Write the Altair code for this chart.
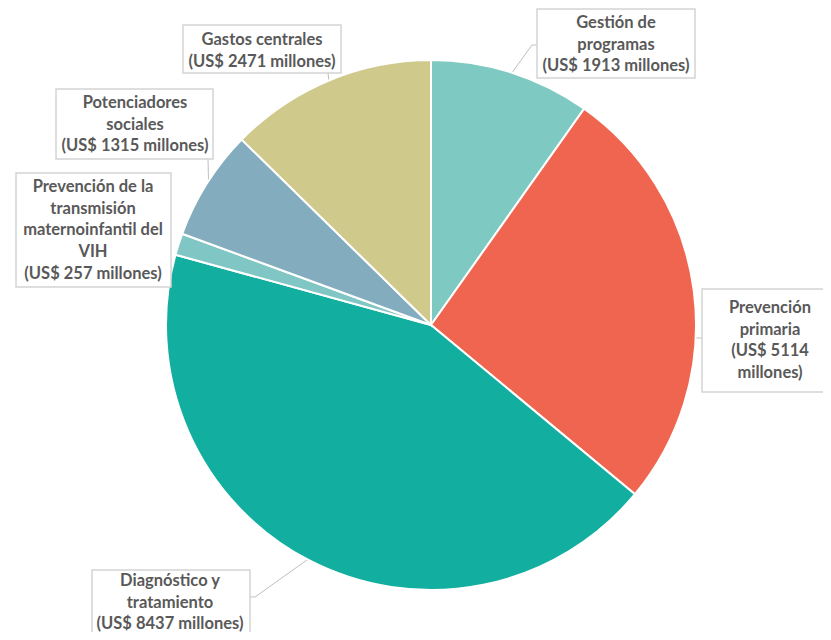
import altair as alt
import pandas as pd
import numpy as np

# ---------------- data ----------------
categories = [
    "Gestión de programas",
    "Prevención primaria",
    "Diagnóstico y tratamiento",
    "Prevención de la transmisión maternoinfantil del VIH",
    "Potenciadores sociales",
    "Gastos centrales",
]
values = [1913, 5114, 8437, 257, 1315, 2471]
name_lines = [
    ["Gestión de", "programas"],
    ["Prevención", "primaria"],
    ["Diagnóstico y", "tratamiento"],
    ["Prevención de la", "transmisión", "maternoinfantil del", "VIH"],
    ["Potenciadores", "sociales"],
    ["Gastos centrales"],
]
colors = ["#7ECAC3", "#F0654F", "#12AE9F", "#80C6C4", "#83ADBE", "#D0C98C"]

# ---------------- layout (chart pixel coords) ----------------
W, H = 815, 624
CX, CY, R = 423, 317, 265
LINE_H = 21.7
# box: x0, x1, y0, y1 ; text centre x ; first line y ; value line wrapped?
boxes = [
    dict(x0=529, x1=687, y0=1, y1=70, tx=608, ty=15, wrap=False),
    dict(x0=694, x1=840, y0=281, y1=384, tx=762, ty=300, wrap=True),
    dict(x0=84, x1=242, y0=562, y1=650, tx=162, ty=573, wrap=False),
    dict(x0=8, x1=163, y0=165, y1=279, tx=85, ty=179, wrap=False),
    dict(x0=48, x1=205, y0=81, y1=151, tx=127, ty=95, wrap=False),
    dict(x0=175, x1=333, y0=17, y1=65, tx=254, ty=32, wrap=False),
]
# leader elbows (after the anchor on the pie edge)
elbows = [
    [(524, 37), (529, 37)],
    [(686, 330), (694, 330)],
    [(247, 589), (242, 589)],
    [],
    [(200, 151)],
    [(320, 65)],
]

# ---------------- tables ----------------
pie_df = pd.DataFrame({"category": categories, "value": values, "idx": range(len(values))})

total = float(sum(values))
cum = np.cumsum([0] + values)
rect_rows, text_rows, line_rows = [], [], []
for i, (cat, v, b) in enumerate(zip(categories, values, boxes)):
    rect_rows.append(dict(id=i, x0=b["x0"], x1=b["x1"], y0=b["y0"], y1=b["y1"]))
    lines = list(name_lines[i])
    if b["wrap"]:
        lines += [f"(US$ {v}", "millones)"]
    else:
        lines += [f"(US$ {v} millones)"]
    for k, t in enumerate(lines):
        text_rows.append(dict(id=i, t=t, x=b["tx"], y=b["ty"] + k * LINE_H))
    if elbows[i]:
        mid = (cum[i] + cum[i + 1]) / 2.0 / total * 2 * np.pi
        ax = CX + (R - 2) * np.sin(mid)
        ay = CY - (R - 2) * np.cos(mid)
        pts = [(ax, ay)] + elbows[i]
        for k, (px, py) in enumerate(pts):
            line_rows.append(dict(id=i, o=k, x=px, y=py))

rect_df = pd.DataFrame(rect_rows)
text_df = pd.DataFrame(text_rows)
line_df = pd.DataFrame(line_rows)

# ---------------- marks ----------------
leaders = alt.Chart(line_df).mark_line(color="#BFBFBF", strokeWidth=1).encode(
    x=alt.X("x:Q", scale=None),
    y=alt.Y("y:Q", scale=None),
    detail="id:N",
    order="o:Q",
)

pie = alt.Chart(pie_df).mark_arc(outerRadius=R, stroke="white", strokeWidth=2).encode(
    theta=alt.Theta("value:Q", stack=True),
    order=alt.Order("idx:Q"),
    color=alt.Color("category:N", scale=alt.Scale(domain=categories, range=colors), legend=None),
    x=alt.value(CX),
    y=alt.value(CY),
)

rects = alt.Chart(rect_df).mark_rect(fill="white", stroke="#D4D4D4", strokeWidth=1.5).encode(
    x=alt.X("x0:Q", scale=None),
    x2="x1:Q",
    y=alt.Y("y0:Q", scale=None),
    y2="y1:Q",
)

texts = alt.Chart(text_df).mark_text(
    font="Lato", fontWeight="bold", fontSize=16.5, color="#595959",
    align="center", baseline="middle",
).encode(
    x=alt.X("x:Q", scale=None),
    y=alt.Y("y:Q", scale=None),
    text="t:N",
)

chart = alt.layer(leaders, pie, rects, texts).properties(
    width=W, height=H, padding=0, autosize=alt.AutoSizeParams(type="none")
).configure_view(stroke=None)

chart.save("out.html", embed_options={"renderer": "svg", "actions": False})
